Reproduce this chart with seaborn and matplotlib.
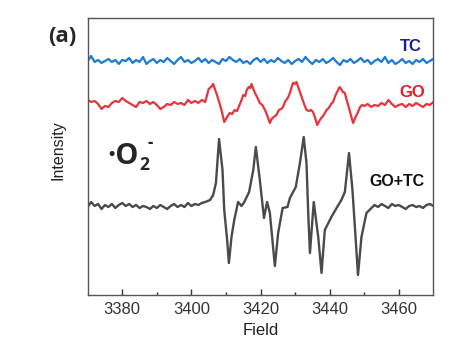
import numpy as np
import pandas as pd
import matplotlib
matplotlib.use("Agg")
import matplotlib.pyplot as plt
import seaborn as sns

# ---------------- data ----------------
tc_field = list(range(3370, 3471))
tc_int = [239, 244, 238, 240, 237, 239, 241, 238, 240, 236,
          240, 239, 242, 237, 240, 238, 243, 236, 239, 241,
          237, 240, 238, 242, 239, 236, 240, 243, 238, 240,
          237, 239, 242, 238, 241, 237, 240, 238, 236, 241,
          239, 243, 240, 238, 241, 237, 239, 236, 240, 242,
          238, 241, 237, 240, 238, 242, 239, 237, 240, 236,
          239, 241, 238, 243, 239, 236, 240, 238, 241, 237,
          239, 242, 238, 235, 240, 238, 241, 237, 239, 242,
          238, 240, 236, 239, 241, 238, 243, 237, 240, 236,
          238, 241, 237, 239, 236, 240, 238, 241, 237, 239,
          241]

go_field = (list(range(3370, 3405)) +
            [3405.0, 3405.7, 3406.3, 3406.9, 3407.6, 3408.2, 3408.7, 3409.1, 3409.5, 3410.0,
             3410.5, 3411.1, 3411.8, 3412.5, 3413.2, 3413.8, 3414.4, 3415.0, 3415.6, 3416.0,
             3416.6, 3417.0, 3417.4, 3417.9, 3418.4, 3419.0, 3419.8, 3420.5, 3421.3, 3422.0,
             3422.7, 3423.2, 3423.8, 3424.6, 3425.3, 3426.0, 3426.5, 3427.2, 3427.9, 3428.5,
             3429.0, 3429.4, 3429.9, 3430.4, 3430.9, 3431.4, 3431.9, 3432.6, 3433.3, 3434.0,
             3434.6, 3435.2, 3435.8, 3436.4, 3437.0, 3437.6, 3438.3, 3439.1, 3439.8, 3440.4,
             3441.0, 3441.6, 3442.3, 3442.9, 3443.3, 3443.8, 3444.4, 3445.0, 3445.6, 3446.2,
             3446.8, 3447.5, 3448.2, 3448.8, 3449.4] +
            list(range(3450, 3471)))
go_int = ([200, 198, 199, 196, 191, 194, 193, 197, 199, 198,
           202, 199, 197, 195, 193, 198, 197, 199, 196, 198,
           195, 191, 193, 196, 195, 198, 196, 197, 195, 200,
           197, 199, 197, 200, 198] +
          [211, 213, 216, 210, 203, 196, 190, 184, 178, 181,
           184, 187, 186, 190, 189, 194, 199, 205, 204, 210,
           213, 212, 216, 211, 207, 203, 197, 195, 190, 184,
           177, 181, 183, 185, 190, 191, 193, 199, 202, 207,
           213, 217, 216, 218, 213, 208, 203, 196, 190, 189,
           190, 188, 182, 175, 179, 182, 185, 190, 192, 196,
           198, 204, 209, 213, 211, 208, 207, 199, 192, 184,
           177, 183, 188, 193, 195] +
          [194, 196, 193, 195, 194, 197, 195, 200, 196, 193,
           195, 196, 193, 196, 194, 197, 195, 193, 196, 195, 198])

mix_field = (list(range(3370, 3405)) +
             [3405.4, 3406.3, 3407.1, 3408.0, 3409.0, 3409.5, 3410.35, 3410.85, 3411.6, 3412.4,
              3413.5, 3414.5, 3415.3, 3416.7, 3417.9, 3418.65, 3419.8, 3421.0, 3421.9, 3422.7,
              3424.15, 3425.1, 3426.4, 3427.8, 3428.5, 3430.2, 3431.4, 3432.5, 3433.3, 3433.8,
              3434.3, 3435.4, 3436.7, 3437.65, 3438.6, 3440.5, 3442.0, 3443.4, 3444.4, 3445.6,
              3446.6, 3447.3, 3448.2, 3449.2, 3450.65, 3452.1] +
             list(range(3453, 3471)))
mix_int = ([93, 98, 94, 96, 91, 95, 93, 96, 92, 95,
            97, 94, 96, 93, 95, 92, 94, 93, 91, 94,
            92, 95, 93, 91, 94, 96, 93, 95, 93, 97,
            94, 96, 95, 97, 98] +
           [100, 105, 117, 161, 130, 90, 60, 37, 63, 80,
            98, 94, 98, 108, 130, 153, 120, 82, 98, 87,
            34, 67, 92, 93, 102, 113, 137, 163, 137, 87,
            47, 98, 63, 27, 70, 83, 92, 100, 108, 147,
            110, 73, 25, 63, 87, 92] +
           [95, 93, 96, 94, 92, 96, 94, 95, 93, 91,
            94, 95, 93, 94, 92, 95, 96, 94])

x_ticks = [3380, 3400, 3420, 3440, 3460]
labels = ["TC", "GO", "GO+TC"]

# ---------------- plotting ----------------
sns.set_style("ticks")
plt.rcParams["font.family"] = ["Liberation Sans", "DejaVu Sans"]

fig = plt.figure(figsize=(4.53, 3.55), dpi=100)
ax = fig.add_axes([0.1936, 0.169, 0.763, 0.7795])

sns.lineplot(x=tc_field, y=tc_int, ax=ax, color="#1a7ad6", linewidth=1.6)
sns.lineplot(x=go_field, y=go_int, ax=ax, color="#e8333c", linewidth=1.6)
sns.lineplot(x=mix_field, y=mix_int, ax=ax, color="#4a4a4a", linewidth=1.7)

ax.set_xlim(3370, 3470)
ax.set_ylim(5, 281.7)
ax.set_xticks(x_ticks)
ax.set_xticks([3390, 3410, 3430, 3450], minor=True)
ax.set_yticks([])
ax.tick_params(axis="x", which="major", direction="in", length=4, width=1,
               labelsize=12, colors="#333333", pad=5)
ax.tick_params(axis="x", which="minor", direction="in", length=2.5, width=1,
               colors="#333333")
for s in ax.spines.values():
    s.set_visible(True)
    s.set_color("#555555")
    s.set_linewidth(1.0)

ax.set_xlabel("Field", fontsize=12, color="#222222", labelpad=4)
ax.set_ylabel("Intensity", fontsize=11.5, color="#222222")
ax.yaxis.set_label_coords(-0.063, 0.525)

ax.text(3463.6, 253, labels[0], color="#1a1aa5", fontsize=12, fontweight="bold",
        ha="center", va="center")
ax.text(3463.8, 207, labels[1], color="#e0202a", fontsize=12, fontweight="bold",
        ha="center", va="center")
ax.text(3459.5, 118, labels[2], color="#111111", fontsize=11.5, fontweight="bold",
        ha="center", va="center")

W, H = 453.0, 355.0
fig.text(62 / W, 1 - 36 / H, "(a)", fontsize=16, fontweight="bold",
         family=["Open Sans", "DejaVu Sans"], ha="center", va="center")
main = fig.text(107 / W, 1 - 164 / H, "·O", fontsize=21, fontweight="bold",
                family=["Open Sans", "DejaVu Sans"], ha="left", va="baseline")
fig.canvas.draw()
bb = main.get_window_extent()
x_end = bb.x1 / fig.bbox.width
fig.text(x_end + 0.5 / W, 1 - 170 / H, "2", fontsize=12.5, fontweight="bold",
         family=["Open Sans", "DejaVu Sans"], ha="left", va="baseline")
fig.text(x_end + 9 / W, 1 - 148 / H, "-", fontsize=12, fontweight="bold",
         family=["Open Sans", "DejaVu Sans"], ha="left", va="baseline")

fig.savefig("out.png", dpi=100)
